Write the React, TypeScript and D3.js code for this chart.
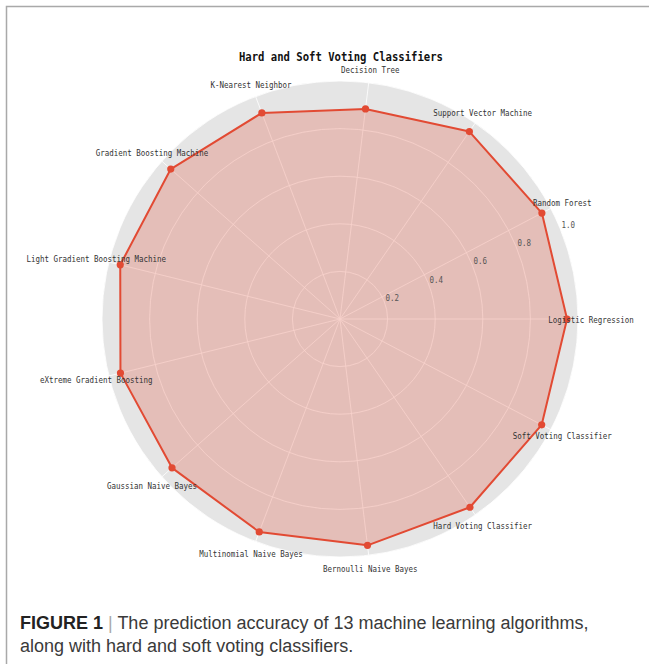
import { useEffect } from 'react'
import * as d3 from 'd3'

const categories = [
  'Logistic Regression',
  'Random Forest',
  'Support Vector Machine',
  'Decision Tree',
  'K-Nearest Neighbor',
  'Gradient Boosting Machine',
  'Light Gradient Boosting Machine',
  'eXtreme Gradient Boosting',
  'Gaussian Naive Bayes',
  'Multinomial Naive Bayes',
  'Bernoulli Naive Bayes',
  'Hard Voting Classifier',
  'Soft Voting Classifier',
]

const accuracy = [0.954, 0.958, 0.957, 0.889, 0.926, 0.95, 0.951, 0.95, 0.943, 0.957, 0.958, 0.961, 0.957]

const radialTicks = [0.2, 0.4, 0.6, 0.8, 1.0]

const W = 649
const H = 664
const cx = 340
const cy = 319
const R = 238
const RED = '#E24A33'
const mono = "'DejaVu Sans Mono', 'Liberation Mono', monospace"
const sans = "'Liberation Sans', Arial, sans-serif"

export default function App() {
  useEffect(() => {
    document.body.style.margin = '0'
  }, [])

  const r = d3.scaleLinear().domain([0, 1]).range([0, R])
  const angle = d3.scaleLinear().domain([0, categories.length]).range([0, 2 * Math.PI])

  const px = (i: number, v: number) => cx + r(v) * Math.cos(angle(i))
  const py = (i: number, v: number) => cy - r(v) * Math.sin(angle(i))

  const pts: [number, number][] = accuracy.map((v, i) => [px(i, v), py(i, v)])
  const line = d3.line().curve(d3.curveLinearClosed)
  const path = line(pts) || ''

  // matplotlib puts the radial labels at 22.5 deg
  const tickAngle = (22.5 * Math.PI) / 180

  return (
    <svg width={W} height={H} style={{ display: 'block', background: '#fff' }}>
      {/* frame */}
      <path d={`M6.5,${H} L6.5,6.5 L${W},6.5`} fill="none" stroke="#a9a9a9" strokeWidth={1.5} />

      {/* title */}
      <text x={341} y={61} textAnchor="middle" fontFamily={mono} fontWeight="bold" fontSize={11.5}
        textLength={204} lengthAdjust="spacingAndGlyphs" fill="#111">
        Hard and Soft Voting Classifiers
      </text>

      {/* polar background + grid */}
      <circle cx={cx} cy={cy} r={R} fill="#E5E5E5" />
      {radialTicks.map(t => (
        <circle key={t} cx={cx} cy={cy} r={r(t)} fill="none" stroke="#fff" strokeWidth={0.8} />
      ))}
      {categories.map((c, i) => (
        <line key={c} x1={cx} y1={cy} x2={px(i, 1)} y2={py(i, 1)} stroke="#fff" strokeWidth={0.8} />
      ))}

      {/* data */}
      <path d={path} fill={RED} fillOpacity={0.25} stroke={RED} strokeWidth={2} strokeLinejoin="round" />
      {pts.map((p, i) => (
        <circle key={i} cx={p[0]} cy={p[1]} r={3.6} fill={RED} />
      ))}

      {/* radial tick labels */}
      {radialTicks.map(t => (
        <text key={t} x={cx + (r(t) + 9) * Math.cos(tickAngle)} y={cy - (r(t) + 9) * Math.sin(tickAngle)}
          textAnchor="middle" dominantBaseline="central" fontFamily={mono} fontSize={9.5}
          textLength={13.5} lengthAdjust="spacingAndGlyphs" fill="#555">
          {t.toFixed(1)}
        </text>
      ))}

      {/* category labels */}
      {categories.map((c, i) => (
        <text key={c} x={cx + R * 1.055 * Math.cos(angle(i))} y={cy - R * 1.055 * Math.sin(angle(i))}
          textAnchor="middle" dominantBaseline="central" fontFamily={mono} fontSize={9.5}
          textLength={c.length * 4.5} lengthAdjust="spacingAndGlyphs" fill="#333">
          {c}
        </text>
      ))}

      {/* caption */}
      <text x={20} y={629} fontFamily={sans} fontSize={18} fill="#3a3a3a">
        <tspan fontWeight="bold" fill="#222">FIGURE 1</tspan>
        <tspan fill="#aaa"> | </tspan>
        <tspan>The prediction accuracy of 13 machine learning algorithms,</tspan>
      </text>
      <text x={20} y={652} fontFamily={sans} fontSize={18} fill="#3a3a3a">
        along with hard and soft voting classifiers.
      </text>
    </svg>
  )
}
